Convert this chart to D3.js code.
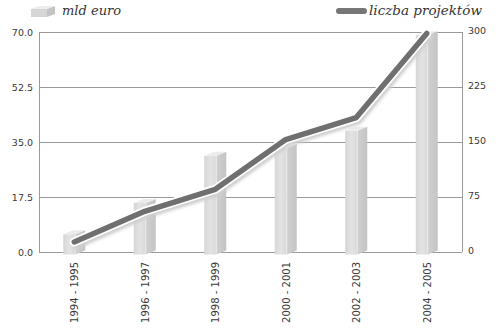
<!DOCTYPE html>
<html><head><meta charset="utf-8">
<script src="https://cdn.jsdelivr.net/npm/d3@7"></script>
<style>body{margin:0;background:#fff}svg{display:block}</style>
</head><body>
<script>
const categories = ["1994 - 1995","1996 - 1997","1998 - 1999","2000 - 2001","2002 - 2003","2004 - 2005"];
const mldEuro = [5.5, 15.5, 30.5, 33, 38.5, 69];
const projekty = [13, 55, 85, 153, 183, 298];
const leftTicks = [0, 17.5, 35, 52.5, 70];
const rightTicks = [0, 75, 150, 225, 300];
const legendLabels = ["mld euro", "liczba projektów"];

const W = 500, H = 329;
const svg = d3.select("body").append("svg").attr("width", W).attr("height", H);
const x0 = 39, x1 = 462, yTop = 32, yBot = 251.5;
const x = d3.scaleBand().domain(categories).range([x0, x1]);
const yL = d3.scaleLinear().domain([0, 70]).range([yBot, yTop]);
const yR = d3.scaleLinear().domain([0, 300]).range([yBot, yTop]);

const defs = svg.append("defs");
const gf = defs.append("linearGradient").attr("id","front").attr("x1","0").attr("x2","1");
gf.append("stop").attr("offset","0").attr("stop-color","#d6d6d6");
gf.append("stop").attr("offset","0.5").attr("stop-color","#e3e3e3");
gf.append("stop").attr("offset","1").attr("stop-color","#d9d9d9");
const gs = defs.append("linearGradient").attr("id","side").attr("x1","0").attr("x2","1");
gs.append("stop").attr("offset","0").attr("stop-color","#d0d0d0");
gs.append("stop").attr("offset","1").attr("stop-color","#c4c4c4");
const blur = defs.append("filter").attr("id","sh").attr("x","-10%").attr("y","-10%").attr("width","120%").attr("height","120%");
blur.append("feGaussianBlur").attr("stdDeviation", 1.5);

// gridlines
svg.append("g").selectAll("line").data(leftTicks).join("line")
  .attr("x1", x0).attr("x2", x1).attr("y1", d => Math.round(yL(d))+0.5).attr("y2", d => Math.round(yL(d))+0.5)
  .attr("stroke", "#9a9a9a").attr("stroke-width", 1);
// axes lines
svg.append("line").attr("x1", x0+0.5).attr("x2", x0+0.5).attr("y1", yTop).attr("y2", yBot+0.5).attr("stroke","#9a9a9a");
svg.append("line").attr("x1", x1+0.5).attr("x2", x1+0.5).attr("y1", yTop).attr("y2", yBot+0.5).attr("stroke","#9a9a9a");

// left tick labels
svg.append("g").selectAll("text").data(leftTicks).join("text")
  .attr("x", 33).attr("y", d => yL(d) + 4).attr("text-anchor", "end")
  .attr("font-family", "DejaVu Sans, sans-serif").attr("font-size", 9.5).attr("fill", "#3a3a3a")
  .text(d => d.toFixed(1));
// right tick labels
svg.append("g").selectAll("text").data(rightTicks).join("text")
  .attr("x", 468).attr("y", d => yR(d) + 2).attr("text-anchor", "start")
  .attr("font-family", "DejaVu Sans, sans-serif").attr("font-size", 9.5).attr("fill", "#3a3a3a")
  .text(d => d);

// bars
const bars = svg.append("g");
const fw = 12, sw = 10, cap = 4;
categories.forEach((c, i) => {
  const cx = x(c) + x.bandwidth()/2;
  const top = yL(mldEuro[i]);
  const bot = yBot + 3;
  const g = bars.append("g");
  g.append("rect").attr("x", cx - 11).attr("y", top).attr("width", fw).attr("height", bot - top).attr("fill", "url(#front)");
  g.append("path").attr("d", `M${cx+1},${top} L${cx+1+sw},${top-cap} L${cx+1+sw},${bot-cap} L${cx+1},${bot} Z`).attr("fill","url(#side)");
  g.append("path").attr("d", `M${cx-11},${top} L${cx-11+sw},${top-cap} L${cx+1+sw},${top-cap} L${cx+1},${top} Z`).attr("fill","#ececec");
  g.append("line").attr("x1", cx+1).attr("x2", cx+1).attr("y1", top).attr("y2", bot).attr("stroke","#efefef").attr("stroke-width",0.8);
});

// line
const line = d3.line().x((d,i) => x(categories[i]) + x.bandwidth()/2).y(d => yR(d));
svg.append("path").datum(projekty).attr("d", line).attr("transform","translate(2,3)")
  .attr("fill","none").attr("stroke","#cfcfcf").attr("stroke-width",8).attr("stroke-linecap","round").attr("stroke-linejoin","round").attr("filter","url(#sh)");
svg.append("path").datum(projekty).attr("d", line)
  .attr("fill","none").attr("stroke","#fff").attr("stroke-width",9).attr("stroke-linecap","round").attr("stroke-linejoin","round");
svg.append("path").datum(projekty).attr("d", line)
  .attr("fill","none").attr("stroke","#6f6f6f").attr("stroke-width",5.5).attr("stroke-linecap","round").attr("stroke-linejoin","round");

// x labels
svg.append("g").selectAll("text").data(categories).join("text")
  .attr("transform", d => `translate(${x(d) + x.bandwidth()/2 + 4},262) rotate(-90)`)
  .attr("text-anchor", "end")
  .attr("font-family", "DejaVu Sans, sans-serif").attr("font-size", 10).attr("fill", "#3a3a3a")
  .text(d => d);

// legend
const lg = svg.append("g");
lg.append("rect").attr("x", 31).attr("y", 9).attr("width", 16).attr("height", 8).attr("fill","#d6d6d6");
lg.append("path").attr("d","M47,9 L55,6 L55,14 L47,17 Z").attr("fill","#c4c4c4");
lg.append("path").attr("d","M31,9 L39,6 L55,6 L47,9 Z").attr("fill","#ececec");
lg.append("text").attr("x", 62).attr("y", 15).attr("font-family","DejaVu Serif, serif").attr("font-style","italic")
  .attr("font-size", 13).attr("fill","#333").text(legendLabels[0]);
lg.append("line").attr("x1", 339).attr("x2", 364).attr("y1", 11).attr("y2", 11)
  .attr("stroke","#777").attr("stroke-width",6).attr("stroke-linecap","round");
lg.append("text").attr("x", 369).attr("y", 15).attr("font-family","DejaVu Serif, serif").attr("font-style","italic")
  .attr("font-size", 13.5).attr("fill","#333").text(legendLabels[1]);
</script>
</body></html>
